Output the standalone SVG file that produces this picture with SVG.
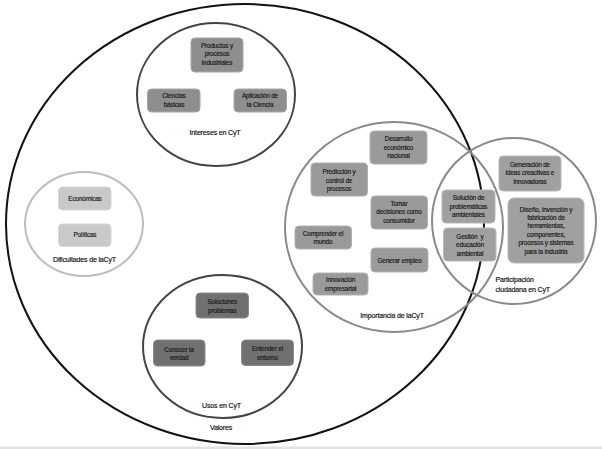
<svg xmlns="http://www.w3.org/2000/svg" width="602" height="449" viewBox="0 0 602 449">
<style>
text{font-family:"Liberation Sans",Arial,sans-serif;font-size:6.4px;fill:#1a1a1a;stroke:#1a1a1a;stroke-width:0.18px;text-anchor:middle;letter-spacing:-0.15px}
.lbl{font-size:7px;fill:#111;stroke:#111}
.box{stroke-width:1}
.bi{fill:#8e8e8e;stroke:#a6a6a6}
.bd{fill:#c9c9c9;stroke:#d6d6d6}
.bu{fill:#707070;stroke:#8a8a8a}
.bm{fill:#9a9a9a;stroke:#b0b0b0}
.bp{fill:#a0a0a0;stroke:#b8b8b8}
.ring{fill:none;stroke-width:2}
</style>
<rect x="0" y="0" width="602" height="449" fill="#fff"/>
<rect x="0" y="446.5" width="602" height="2.5" fill="#e2e2e2"/>
<g id="connectors"></g>
<g id="valores">
<ellipse cx="245" cy="224" rx="239" ry="220" fill="none" stroke="#111" stroke-width="2"/>
<text class="lbl" x="221" y="430">Valores</text>
</g>
<g id="intereses">
<ellipse class="ring" cx="216" cy="94.5" rx="79" ry="71.5" stroke="#444"/>
<rect class="box bi" x="191" y="38" width="52" height="34" rx="4"/>
<text x="217" y="47.5">Productos y</text><text x="217" y="56">procesos</text><text x="217" y="64.5">industriales</text>
<rect class="box bi" x="147.5" y="89" width="52.5" height="23" rx="4"/>
<text x="174" y="98">Ciencias</text><text x="174" y="106.5">básicas</text>
<rect class="box bi" x="234" y="89" width="52.5" height="23" rx="4"/>
<text x="260" y="98">Aplicación de</text><text x="260" y="106.5">la Ciencia</text>
<text class="lbl" x="215" y="134.5">Intereses en CyT</text>
</g>
<g id="dificultades">
<ellipse class="ring" cx="84" cy="224" rx="59" ry="52" stroke="#bdbdbd"/>
<rect class="box bd" x="58.5" y="187" width="52.5" height="23" rx="4"/>
<text x="85" y="200.8">Económicas</text>
<rect class="box bd" x="58.5" y="224" width="52.5" height="22.5" rx="4"/>
<text x="85" y="236.8">Políticas</text>
<text class="lbl" x="84.5" y="262">Dificultades de laCyT</text>
</g>
<g id="usos">
<ellipse class="ring" cx="222.5" cy="346.5" rx="79.5" ry="71.5" stroke="#444"/>
<rect class="box bu" x="196" y="293" width="52.5" height="25" rx="4"/>
<text x="222.3" y="303.8">Soluciones</text><text x="222.3" y="312.5">problemas</text>
<rect class="box bu" x="153.5" y="340" width="51.5" height="26" rx="4"/>
<text x="179" y="351.5">Conocer la</text><text x="179" y="360">verdad</text>
<rect class="box bu" x="241.5" y="340" width="52" height="25.5" rx="4"/>
<text x="267.5" y="351">Entender el</text><text x="267.5" y="359.5">entorno</text>
<text class="lbl" x="221.5" y="408">Usos en CyT</text>
</g>
<g id="importancia">
<ellipse class="ring" cx="394" cy="227" rx="109" ry="105" stroke="#8a8a8a"/>
<rect class="box bm" x="370" y="131" width="57" height="33" rx="4"/>
<text x="398.5" y="140.8">Desarrollo</text><text x="398.5" y="149.5">económico</text><text x="398.5" y="157.8">nacional</text>
<rect class="box bm" x="311" y="163" width="56.5" height="33" rx="4"/>
<text x="339" y="173.8">Predicción y</text><text x="339" y="182.5">control de</text><text x="339" y="190.8">procesos</text>
<rect class="box bm" x="371" y="196" width="56.5" height="33" rx="4"/>
<text x="399" y="205.5">Tomar</text><text x="399" y="214.2">decisiones como</text><text x="399" y="222.8">consumidor</text>
<rect class="box bm" x="295" y="226" width="56.5" height="23" rx="4"/>
<text x="323" y="235.5">Comprender el</text><text x="323" y="244.2">mundo</text>
<rect class="box bm" x="371" y="248" width="57" height="24" rx="4"/>
<text x="399.5" y="262.8">Generar empleo</text>
<rect class="box bm" x="313" y="273" width="55" height="22" rx="4"/>
<text x="340.5" y="281.8">Innovación</text><text x="340.5" y="290.5">empresarial</text>
<text class="lbl" x="392" y="317.5">Importancia de laCyT</text>
</g>
<g id="participacion">
<ellipse class="ring" cx="514" cy="221" rx="82" ry="83" stroke="#8a8a8a"/>
<rect class="box bp" x="442" y="190" width="53" height="33" rx="4"/>
<text x="468.5" y="200.2">Solución de</text><text x="468.5" y="208.8">problemáticas</text><text x="468.5" y="217.2">ambientales</text>
<rect class="box bp" x="443.5" y="228" width="52.5" height="33" rx="4"/>
<text x="470" y="238.5">Gestión&#160; y</text><text x="470" y="247.2">educación</text><text x="470" y="255.5">ambiental</text>
<rect class="box bp" x="499" y="156" width="62" height="35" rx="4"/>
<text x="530" y="166.5">Generación de</text><text x="530" y="175.2">ideas creactivas e</text><text x="530" y="183.8">innovadoras</text>
<rect class="box bp" x="508" y="198" width="76" height="65" rx="6"/>
<text x="546" y="211.5">Diseño, invención y</text><text x="546" y="219.8">fabricación de</text><text x="546" y="228.2">herramientas,</text><text x="546" y="236.5">componentes,</text><text x="546" y="244.8">procesos y sistemas</text><text x="546" y="253.5">para la industria</text>
<text class="lbl" x="495.5" y="281.8" style="text-anchor:start">Participación</text>
<text class="lbl" x="495.5" y="291.8" style="text-anchor:start">ciudadana en CyT</text>
</g>
</svg>
